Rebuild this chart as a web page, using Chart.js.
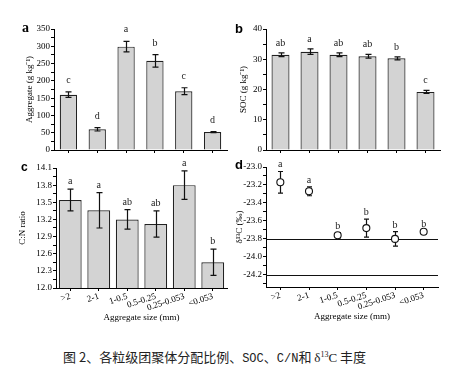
<!DOCTYPE html>
<html><head><meta charset="utf-8">
<script src="https://cdn.jsdelivr.net/npm/chart.js@4.4.1/dist/chart.umd.min.js"></script>
<style>
html,body{margin:0;padding:0;background:#fff;}
#wrap{position:relative;width:466px;height:371px;overflow:hidden;background:#fff;}
canvas{position:absolute;}
.pl{position:absolute;font-weight:bold;color:#000;line-height:1;}
#cap{position:absolute;left:63px;top:348px;font-family:"Noto Sans CJK SC";font-size:13px;line-height:13px;white-space:nowrap;color:#222;}
#cap .m{font-family:"Liberation Mono";font-size:12px;}
#cap .s{font-family:"Liberation Serif";font-size:13px;}
</style></head><body>
<div id="wrap">
<canvas id="cA" width="233" height="160" style="left:0;top:0"></canvas>
<canvas id="cB" width="233" height="160" style="left:233px;top:0"></canvas>
<canvas id="cC" width="233" height="170" style="left:0;top:160px"></canvas>
<canvas id="cD" width="233" height="170" style="left:233px;top:160px"></canvas>
<div class="pl" style="left:22px;top:21px;font-family:'Liberation Serif';font-size:14px">a</div>
<div class="pl" style="left:235px;top:22px;font-family:'Liberation Sans';font-size:13px">b</div>
<div class="pl" style="left:21px;top:161px;font-family:'Liberation Sans';font-size:12px">c</div>
<div class="pl" style="left:235px;top:158px;font-family:'Liberation Sans';font-size:13px">d</div>
<div id="cap">图 2、各粒级团聚体分配比例、<span class="m">SOC</span>、<span class="m">C/N</span>和 <span class="s">δ<sup style="font-size:8px">13</sup>C</span> 丰度</div>
</div>
<script>
const sizeLabels = ['>2','2-1','1-0.5','0.5-0.25','0.25-0.053','<0.053'];
const aggregateVals = [160, 60, 299, 258, 170, 52];
const aggregateErr  = [8, 5, 15, 18, 10, 1.5];
const aggregateSig  = ['c','d','a','b','c','d'];
const socVals = [31.5, 32.5, 31.5, 31.0, 30.3, 19.2];
const socErr  = [0.6, 0.9, 0.6, 0.6, 0.5, 0.5];
const socSig  = ['ab','a','ab','ab','b','c'];
const cnVals = [13.54, 13.36, 13.20, 13.12, 13.80, 12.45];
const cnErr  = [0.19, 0.31, 0.17, 0.23, 0.25, 0.23];
const cnSig  = ['a','a','ab','ab','a','b'];
const d13Vals = [-23.17, -23.27, -23.76, -23.68, -23.80, -23.72];
const d13Err  = [0.12, 0.05, 0.03, 0.10, 0.08, 0.01];
const d13Sig  = ['a','a','b','b','b','b'];
const d13RefLines = [-23.8, -24.2];

const SERIF = 'Liberation Serif';

function drawErr(chart, o){
  const meta = chart.getDatasetMeta(0), y = chart.scales.y, ctx = chart.ctx;
  ctx.save(); ctx.strokeStyle = '#111'; ctx.lineWidth = 1.2;
  o.values.forEach((v,i)=>{
    const x = Math.round(meta.data[i].x)+0.5;
    const t = y.getPixelForValue(v + o.errors[i]), b = y.getPixelForValue(v - o.errors[i]);
    ctx.beginPath();
    ctx.moveTo(x,t); ctx.lineTo(x,b);
    ctx.moveTo(x-o.cap,t); ctx.lineTo(x+o.cap,t);
    ctx.moveTo(x-o.cap,b); ctx.lineTo(x+o.cap,b);
    ctx.stroke();
  });
  ctx.restore();
}
const errPlugin = {
  id:'errbars',
  beforeDatasetsDraw(chart, args, o){
    if(!o || !o.values) return;
    const ctx = chart.ctx, y = chart.scales.y, a = chart.chartArea;
    (o.refLines||[]).forEach(v=>{
      const py = Math.round(y.getPixelForValue(v))+0.5;
      ctx.save(); ctx.strokeStyle='#111'; ctx.lineWidth=1;
      ctx.beginPath(); ctx.moveTo(a.left,py); ctx.lineTo(a.right,py); ctx.stroke(); ctx.restore();
    });
    if(o.before) drawErr(chart,o);
  },
  afterDatasetsDraw(chart, args, o){
    if(!o || !o.values) return;
    if(!o.before) drawErr(chart,o);
    const meta = chart.getDatasetMeta(0), y = chart.scales.y, ctx = chart.ctx;
    ctx.save(); ctx.fillStyle='#222'; ctx.font='10px "'+SERIF+'"'; ctx.textAlign='center'; ctx.textBaseline='alphabetic';
    o.values.forEach((v,i)=>{
      const t = y.getPixelForValue(v + o.errors[i]);
      ctx.fillText(o.letters[i], meta.data[i].x, t - o.gap);
    });
    ctx.restore();
  }
};
Chart.register(errPlugin);

function yScale(min,max,step,isMajor,fmt,title,titlePad,W){
  return {
    type:'linear', min, max,
    border:{display:true,color:'#000',width:1},
    grid:{drawOnChartArea:false,color:'#000',tickLength:3,tickWidth:1},
    ticks:{stepSize:step,autoSkip:false,includeBounds:false,padding:1,color:'#000',
      font:{family:SERIF,size:9},callback:(v)=>isMajor(v)?fmt(v):''},
    title:{display:true,text:title,color:'#000',font:{family:SERIF,size:9},padding:{top:titlePad,bottom:0}},
    afterFit:(s)=>{s.width=W;}
  };
}
function xScale(showLabels,H,titlePadB){
  return {
    type:'category', offset:true,
    border:{display:true,color:'#000',width:1},
    grid:{drawOnChartArea:false,offset:false,color:'#000',tickLength:3,tickWidth:1},
    ticks:{display:showLabels,autoSkip:false,minRotation:18,maxRotation:18,padding:0,color:'#000',font:{family:SERIF,size:9}},
    title:{display:showLabels,text:'Aggregate size (mm)',color:'#000',font:{family:SERIF,size:9},padding:{top:0,bottom:titlePadB}},
    afterFit:(s)=>{s.height=H;}
  };
}
function isMult(v,base,step){const k=(v-base)/step;return Math.abs(k-Math.round(k))<1e-6;}

function barChart(id, vals, errs, sig, yCfg, pad, xCfg, gap, barPct){
  return new Chart(document.getElementById(id),{
    type:'bar',
    data:{labels:sizeLabels,datasets:[{data:vals,backgroundColor:'#d3d3d3',borderColor:'#222',borderWidth:1.2,barPercentage:barPct,categoryPercentage:1}]},
    options:{responsive:false,animation:false,layout:{padding:pad},
      plugins:{legend:{display:false},tooltip:{enabled:false},errbars:{values:vals,errors:errs,letters:sig,cap:3,gap:gap,before:false}},
      scales:{x:xCfg,y:yCfg}}
  });
}

barChart('cA', aggregateVals, aggregateErr, aggregateSig,
  yScale(0,350,25,v=>isMult(v,0,50),v=>String(v),'Aggregate (g kg\u207B\u00B9)',24,54),
  {top:29,right:6,left:0,bottom:0}, xScale(false,10,0), 9, 0.6);
barChart('cB', socVals, socErr, socSig,
  yScale(0,40,5,v=>isMult(v,0,10),v=>String(v),'SOC (g kg\u207B\u00B9)',5,33),
  {top:29,right:26,left:0,bottom:0}, xScale(false,10,0), 7, 0.62);
barChart('cC', cnVals, cnErr, cnSig,
  yScale(12.0,14.1,0.15,v=>isMult(v,12,0.3),v=>v.toFixed(1),'C:N ratio',17,56),
  {top:8,right:6,left:0,bottom:0}, xScale(true,42,6.6), 5, 0.8);

new Chart(document.getElementById('cD'),{
  type:'line',
  data:{labels:sizeLabels,datasets:[{data:d13Vals,showLine:false,pointStyle:'circle',pointRadius:3.5,
    pointBackgroundColor:'#fff',pointBorderColor:'#111',pointBorderWidth:1.1}]},
  options:{responsive:false,animation:false,layout:{padding:{top:7,right:28,left:0,bottom:0}},
    plugins:{legend:{display:false},tooltip:{enabled:false},
      errbars:{values:d13Vals,errors:d13Err,letters:d13Sig,cap:2.5,gap:4,before:true,refLines:d13RefLines}},
    scales:{x:xScale(true,43,7.9),
      y:yScale(-24.335,-23.0,0.1,v=>isMult(v,0,0.2),v=>v.toFixed(1),'\u03B4\u00B9\u00B3C (\u2030)',1,33)}}
});
</script>
</body></html>
